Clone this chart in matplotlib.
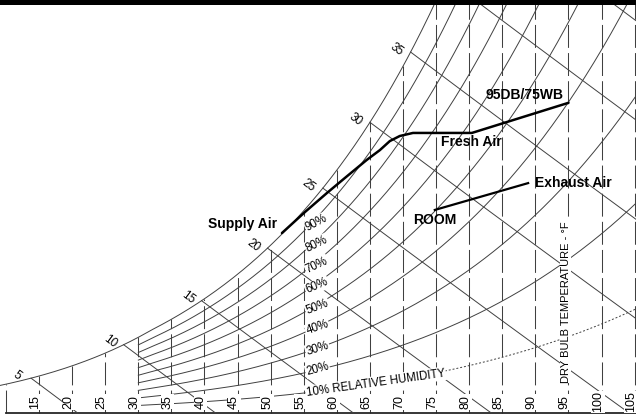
#!/usr/bin/env python3
# Psychrometric chart sketch: cooling-coil path from outdoor air to supply air,
# room state and exhaust air. Grid is drawn from standard psychrometric relations.

import numpy as np
import matplotlib.pyplot as plt
from matplotlib.patches import Rectangle

plt.rcParams['font.family'] = ['Liberation Sans', 'DejaVu Sans']

# chart grid definition
dry_bulb_lines = [10, 15, 20, 25, 30, 35, 40, 45, 50, 55, 60, 65, 70, 75, 80, 85, 90, 95, 100, 105]
dry_bulb_labels = [15, 20, 25, 30, 35, 40, 45, 50, 55, 60, 65, 70, 75, 80, 85, 90, 95, 100, 105]
rh_levels = [10, 20, 30, 40, 50, 60, 70, 80, 90]
rh_label_rot = [8, 15, 17, 19, 21, 23, 25, 26, 28]
enthalpy_lines = [5, 10, 15, 20, 25, 30, 35, 40, 45]
enthalpy_labels = [5, 10, 15, 20, 25, 30, 35]

# process path (dry bulb F, humidity ratio lb/lb)
fresh_db = [95.0, 80.4, 71.5, 69.5, 68.0, 66.5, 64.5, 61.2, 58.5, 55.2, 51.7]
fresh_w = [0.01410, 0.01273, 0.01273, 0.01259, 0.01236, 0.01195, 0.01150, 0.01068, 0.01000, 0.00914, 0.00818]
exhaust_db = [74.8, 88.9]
exhaust_w = [0.00923, 0.01045]

P_ATM = 14.696


def p_ws(t_f):
    t_f = np.asarray(t_f, dtype=float)
    t = t_f + 459.67
    ice = (-1.0214165e4 / t - 4.8932428 - 5.3765794e-3 * t + 1.9202377e-7 * t**2
           + 3.5575832e-10 * t**3 - 9.0344688e-14 * t**4 + 4.1635019 * np.log(t))
    wat = (-1.0440397e4 / t - 1.1294650e1 - 2.7022355e-2 * t + 1.2890360e-5 * t**2
           - 2.4780681e-9 * t**3 + 6.5459673 * np.log(t))
    return np.exp(np.where(t_f < 32, ice, wat))


def w_rh(t_f, rh):
    pw = rh * p_ws(t_f)
    return 0.621945 * pw / (P_ATM - pw)


def w_enth(t_f, h):
    return (h - 0.24 * t_f) / (1061 + 0.444 * t_f)


def t_sat_enth(h):
    lo, hi = -20.0, 150.0
    for _ in range(60):
        mid = (lo + hi) / 2
        if 0.24 * mid + w_rh(mid, 1.0) * (1061 + 0.444 * mid) < h:
            lo = mid
        else:
            hi = mid
    return (lo + hi) / 2


fig = plt.figure(figsize=(6.36, 4.17), dpi=100)
ax = fig.add_axes([0, 0, 1, 1])
ax.set_xlim(9.1, 105.2)
ax.set_ylim(-0.000182, 0.018773)
ax.axis('off')

grid_c = '0.25'

# dry bulb lines
for t in dry_bulb_lines:
    ax.plot([t, t], [0, float(w_rh(t, 1.0))], ls=(0, (22, 5)), lw=0.75, color=grid_c, zorder=1)
ax.plot([10, 106], [0, 0], lw=1.3, color='0.15', zorder=1)

# saturation curve
ts = np.linspace(8.5, 76, 300)
ax.plot(ts, w_rh(ts, 1.0), lw=0.7, color=grid_c, zorder=1)

# relative humidity curves
for rh, rot in zip(rh_levels, rh_label_rot):
    tr = np.linspace(30, 106, 300)
    wr = w_rh(tr, rh / 100)
    if rh == 10:
        ax.plot(tr[tr <= 57], wr[tr <= 57], lw=0.7, color=grid_c, zorder=1)
        ax.plot(tr[tr >= 57], wr[tr >= 57], lw=0.7, color=grid_c, ls=(0, (2, 2)), zorder=1)
        txt = '10% RELATIVE HUMIDITY'
    else:
        ax.plot(tr, wr, lw=0.7, color=grid_c, zorder=1)
        txt = '%d%%' % rh
    ax.text(55.4, float(w_rh(55.4, rh / 100)), txt, fontsize=8.3, rotation=rot,
            rotation_mode='anchor', ha='left', va='center', zorder=3,
            bbox=dict(boxstyle='square,pad=0.08', fc='white', ec='none'))

# enthalpy lines
for h in enthalpy_lines:
    t0 = t_sat_enth(h)
    te = np.linspace(t0, min(h / 0.24, 110), 200)
    ax.plot(te, w_enth(te, h), lw=0.7, color=grid_c, zorder=1)
    if h in enthalpy_labels:
        ax.annotate(str(h), xy=(t0, float(w_rh(t0, 1.0))), xytext=(-10.0, 2.0),
                    textcoords='offset points', fontsize=8.5, rotation=-37,
                    ha='center', va='center', zorder=3)

# dry bulb tick labels
for t in dry_bulb_labels:
    ax.text(t - 0.55, 0.00050, str(t), rotation=90, fontsize=9, ha='center', va='center',
            zorder=3, bbox=dict(boxstyle='square,pad=0.05', fc='white', ec='none'))

ax.text(94.6, 0.00505, 'DRY BULB TEMPERATURE - \u00b0F', rotation=90, fontsize=8,
        ha='center', va='center', zorder=3,
        bbox=dict(boxstyle='square,pad=0.05', fc='white', ec='none'))

# process lines
ax.plot(fresh_db, fresh_w, color='black', lw=1.8, solid_capstyle='round', zorder=4)
ax.plot(exhaust_db, exhaust_w, color='black', lw=1.6, zorder=4)

bold = dict(fontsize=10, fontweight='bold', zorder=5)
ax.text(88.4, 0.01445, '95DB/75WB', ha='center', va='center', **bold)
ax.text(80.4, 0.01232, 'Fresh Air', ha='center', va='center', **bold)
ax.text(89.9, 0.01045, 'Exhaust Air', ha='left', va='center', **bold)
ax.text(74.8, 0.00877, 'ROOM', ha='center', va='center', **bold)
ax.text(45.8, 0.00859, 'Supply Air', ha='center', va='center', **bold)

# dark border strip along the top of the scan
fig.add_artist(Rectangle((0, 1 - 5 / 417), 1, 5 / 417, transform=fig.transFigure,
                         fc='black', ec='none', zorder=10))

fig.savefig('out.png', dpi=100)
